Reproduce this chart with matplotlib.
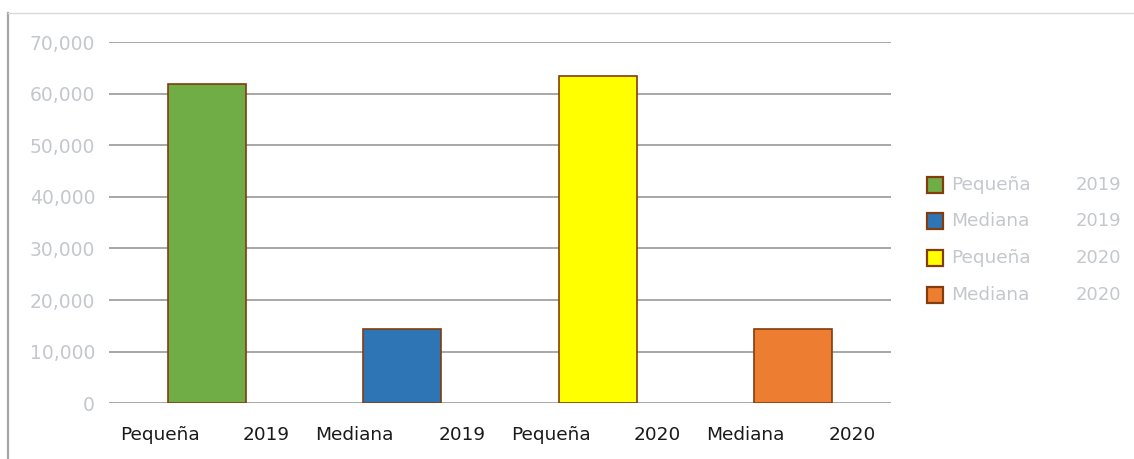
import matplotlib
matplotlib.use("Agg")
import matplotlib.pyplot as plt
from matplotlib.patches import Rectangle
from matplotlib.lines import Line2D
import matplotlib.transforms as mtransforms

categories = ["Pequeña", "Mediana", "Pequeña", "Mediana"]
years = ["2019", "2019", "2020", "2020"]
values = [61900, 14300, 63500, 14300]
colors = ["#70ad47", "#2e75b6", "#ffff00", "#ed7d31"]
yticks = [0, 10000, 20000, 30000, 40000, 50000, 60000, 70000]

FONT = "DejaVu Sans"
W, H = 1134, 459
fig = plt.figure(figsize=(W / 100, H / 100), dpi=100)
ax = fig.add_axes([109 / W, 1 - 403.3 / H, (891 - 109) / W, (403.3 - 42) / H])

x = list(range(len(values)))
ax.bar(x, values, width=0.4, color=colors, edgecolor="#843c0c", linewidth=1.2, zorder=3)
ax.set_xlim(-0.5, len(values) - 0.5)
ax.set_ylim(0, 70000)
ax.set_yticks(yticks)
ax.set_yticklabels([f"{v:,}" for v in yticks], fontsize=13.5, color="#c4c8cc", family=FONT)
ax.tick_params(axis="y", length=0, pad=10)
ax.set_xticks([])
for s in ax.spines.values():
    s.set_visible(False)
ax.yaxis.grid(True, color="#a0a0a0", linewidth=1.3, zorder=0)
ax.set_axisbelow(True)

trans = mtransforms.blended_transform_factory(ax.transData, ax.transAxes)
for i, (c, yr) in enumerate(zip(categories, years)):
    ax.text(i - 0.445, -0.088, c, transform=trans, ha="left", va="center",
            fontsize=13.3, color="#1a1a1a", family=FONT)
    ax.text(i + 0.425, -0.088, yr, transform=trans, ha="right", va="center",
            fontsize=13.3, color="#1a1a1a", family=FONT)

# legend drawn in figure pixels
rows_y = [185, 221, 258, 295]
for i, (c, yr, col) in enumerate(zip(categories, years, colors)):
    yc = rows_y[i]
    fig.patches.append(Rectangle((927 / W, 1 - (yc + 8) / H), 16 / W, 16 / H,
                                 transform=fig.transFigure, facecolor=col,
                                 edgecolor="#843c0c", linewidth=1.6))
    fig.text(951 / W, 1 - yc / H, c, ha="left", va="center", fontsize=13.3,
             color="#c4c8cc", family=FONT)
    fig.text(1121 / W, 1 - yc / H, yr, ha="right", va="center", fontsize=13,
             color="#c4c8cc", family=FONT)

# frame lines
fig.add_artist(Line2D([7.5 / W, 7.5 / W], [0, 1 - 13 / H], transform=fig.transFigure,
                      color="#a6a6a6", linewidth=1.6))
fig.add_artist(Line2D([7.5 / W, 1133 / W], [1 - 13 / H, 1 - 13 / H], transform=fig.transFigure,
                      color="#d9d9d9", linewidth=1.0))

fig.savefig("out.png", dpi=100)
